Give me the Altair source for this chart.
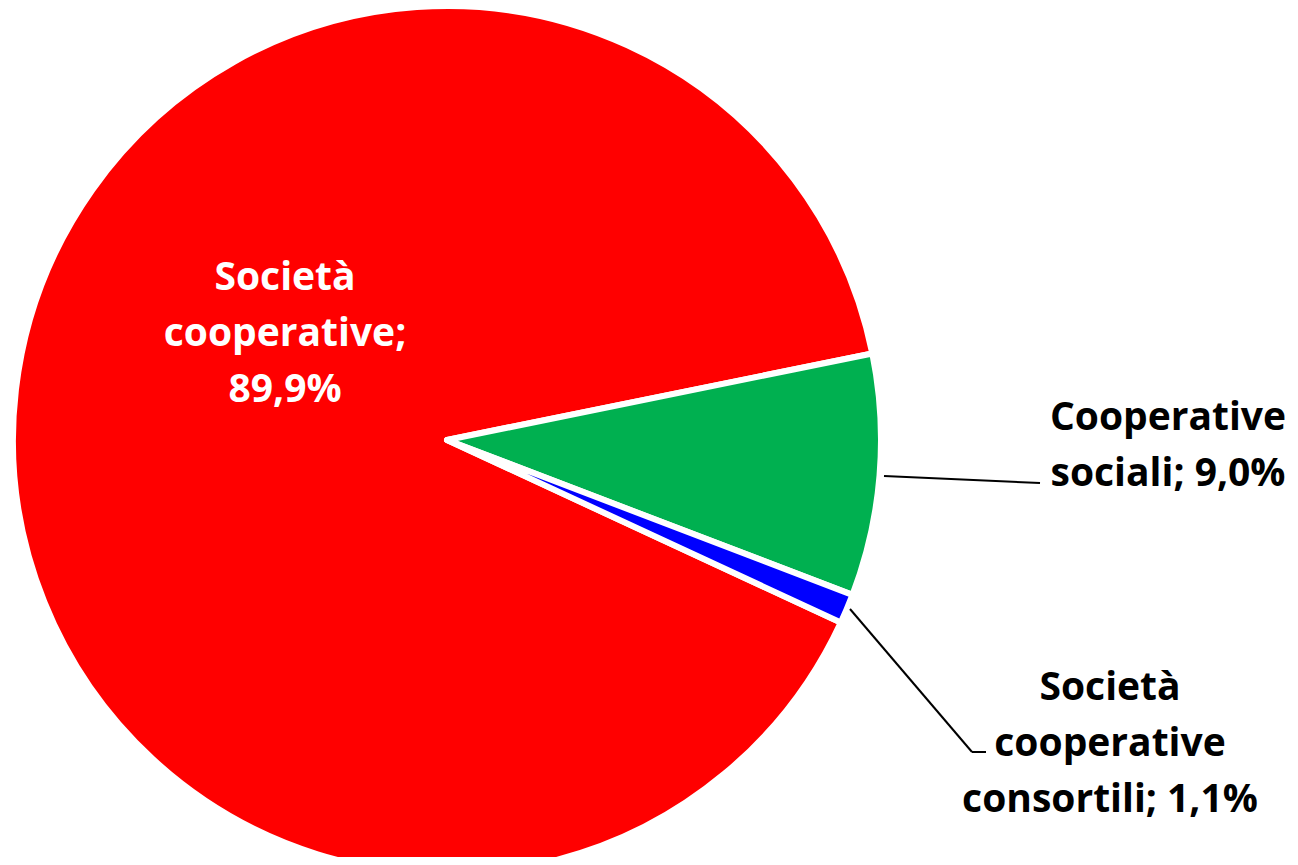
import math
import altair as alt
import pandas as pd

categories = ["Società cooperative", "Cooperative sociali", "Società cooperative consortili"]
values = [89.9, 9.0, 1.1]
colors = ["#FF0000", "#00B050", "#0000FF"]
clockwise_order = [3, 1, 2]
label_lines = [
    ["Società", "cooperative;", "89,9%"],
    ["Cooperative", "sociali; 9,0%"],
    ["Società", "cooperative", "consortili; 1,1%"],
]

df = pd.DataFrame({"cat": categories, "val": values, "ord": clockwise_order})

W, H = 1282, 849
OFF = 8
cx, cy, R = 447 - OFF, 440 - OFF, 434
start = math.radians(78.5)

pie = alt.Chart(df).mark_arc(stroke="white", strokeWidth=6, strokeJoin="round").encode(
    theta=alt.Theta("val:Q", stack=True, scale=alt.Scale(range=[start, start + 2 * math.pi])),
    order=alt.Order("ord:Q"),
    color=alt.Color("cat:N", scale=alt.Scale(domain=categories, range=colors), legend=None),
    x=alt.value(cx),
    y=alt.value(cy),
    radius=alt.value(R),
)

dummy = pd.DataFrame({"d": [0]})

def label(i, x, y, color):
    return alt.Chart(dummy).mark_text(
        text=label_lines[i],
        font="Open Sans", fontWeight="bold", fontSize=39, lineHeight=56,
        align="center", baseline="alphabetic", color=color,
    ).encode(x=alt.value(x - OFF), y=alt.value(y - OFF))

def rule(x1, y1, x2, y2):
    return alt.Chart(dummy).mark_rule(color="black", strokeWidth=2).encode(
        x=alt.value(x1 - OFF), y=alt.value(y1 - OFF), x2=alt.value(x2 - OFF), y2=alt.value(y2 - OFF)
    )

layers = [
    pie,
    rule(884, 476, 1040, 483),
    rule(850, 609, 972, 752),
    rule(972, 752, 986, 752),
    label(0, 285, 290, "white"),
    label(1, 1168, 430, "black"),
    label(2, 1110, 700, "black"),
]

chart = alt.layer(*layers).properties(
    width=W, height=H, padding=0, autosize=alt.AutoSizeParams(type="none")
).configure_view(stroke=None)

chart.save("out.html", embed_options={"renderer": "svg", "actions": False})
